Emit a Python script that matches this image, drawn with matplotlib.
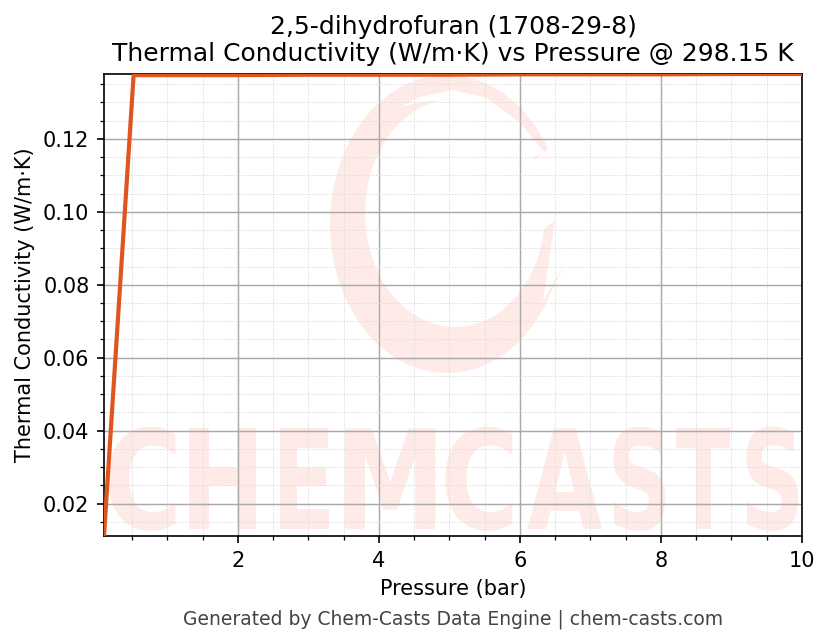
import numpy as np
import matplotlib
matplotlib.use("Agg")
import matplotlib.pyplot as plt
import matplotlib.patheffects as pe
from matplotlib.patches import Polygon
from matplotlib.ticker import MultipleLocator
from matplotlib.transforms import Affine2D

# data
pressure = [0.1, 0.52, 1, 2, 3, 4, 5, 6, 7, 8, 9, 10]
conductivity = [0.0111, 0.1375, 0.1375, 0.1375, 0.1376, 0.1376, 0.1376, 0.1377, 0.1377, 0.1377, 0.1378, 0.1378]
x_ticks = [2, 4, 6, 8, 10]
y_ticks = [0.02, 0.04, 0.06, 0.08, 0.10, 0.12]

W, H, DPI = 830, 644, 150
WM_COLOR = "#FEEBE8"

fig = plt.figure(figsize=(W / DPI, H / DPI), dpi=DPI)
ax = fig.add_axes([104 / W, 1 - 536 / H, 698 / W, 462 / H])

# pixel coords of the figure, y going down
px = Affine2D().scale(1, -1).translate(0, H)


class Squeeze(pe.AbstractPathEffect):
    # watermark letters: blown up and narrowed, no installed font has this shape
    def __init__(self, sx, sy):
        super().__init__()
        self.sx, self.sy = sx, sy

    def draw_path(self, renderer, gc, tpath, affine, rgbFace=None):
        renderer.draw_path(gc, tpath, Affine2D().scale(self.sx, self.sy) + affine, rgbFace)


# ─── watermark ring ──────────────────────────────────────────
def arc(cx, cy, rx, ry, a0, a1):
    t = np.radians(np.linspace(a0, a1, 120))
    return np.column_stack([cx + rx * np.cos(t), cy - ry * np.sin(t)])


ring = np.vstack([
    arc(447, 224, 117, 149, -27, -330),
    arc(455, 213, 90, 114, 28, 352),
    [[555, 220], [543, 301], [563, 267]],
])
ax.add_patch(Polygon(ring, closed=True, fc=WM_COLOR, ec="none", transform=px, zorder=0.2))

slit = [(400, 107), (420, 97), (453, 90), (487, 98), (520, 123), (545, 153),
        (533, 157), (510, 130), (487, 108), (453, 99), (420, 102)]
ax.add_patch(Polygon(slit, closed=True, fc="white", ec="none", transform=px, zorder=0.3))

# ─── watermark letters ───────────────────────────────────────
wm_letters = list("CHEMCASTS")
wm_left = [103, 180, 271, 335, 440, 527, 607, 676, 740]
wm_sx = [0.72, 0.68, 0.63, 0.74, 0.72, 0.65, 0.60, 0.53, 0.60]
WM_SIZE = 30
for ch, lx, sx in zip(wm_letters, wm_left, wm_sx):
    t = ax.text(lx, 529, ch, transform=px, family="DejaVu Sans", weight="bold",
                fontsize=WM_SIZE, ha="left", va="baseline", color=WM_COLOR, zorder=0.2)
    t.set_path_effects([Squeeze(sx * 72 / WM_SIZE, 0.92 * 72 / WM_SIZE)])

# ─── curve ───────────────────────────────────────────────────
ax.plot(pressure, conductivity, color="#DE551E", lw=2.0, zorder=3)

ax.set_xlim(0.1, 10)
ax.set_ylim(0.0111, 0.1378)
ax.set_xticks(x_ticks)
ax.set_yticks(y_ticks)
ax.xaxis.set_minor_locator(MultipleLocator(0.5))
ax.yaxis.set_minor_locator(MultipleLocator(0.005))
ax.set_axisbelow(True)
ax.grid(which="major", color="#AAAAAA", lw=0.7)
ax.grid(which="minor", color="#DDDDDD", lw=0.4, ls=(0, (2, 1.5)))

ax.set_xlabel("Pressure (bar)", fontsize=10)
ax.set_ylabel("Thermal Conductivity (W/m·K)", fontsize=10)
ax.set_title("2,5-dihydrofuran (1708-29-8)\nThermal Conductivity (W/m·K) vs Pressure @ 298.15 K", fontsize=12)

fig.text(453 / W, 1 - 619 / H, "Generated by Chem-Casts Data Engine | chem-casts.com",
         ha="center", va="center", fontsize=9, color="#444444")

fig.savefig("out.png", dpi=DPI)
